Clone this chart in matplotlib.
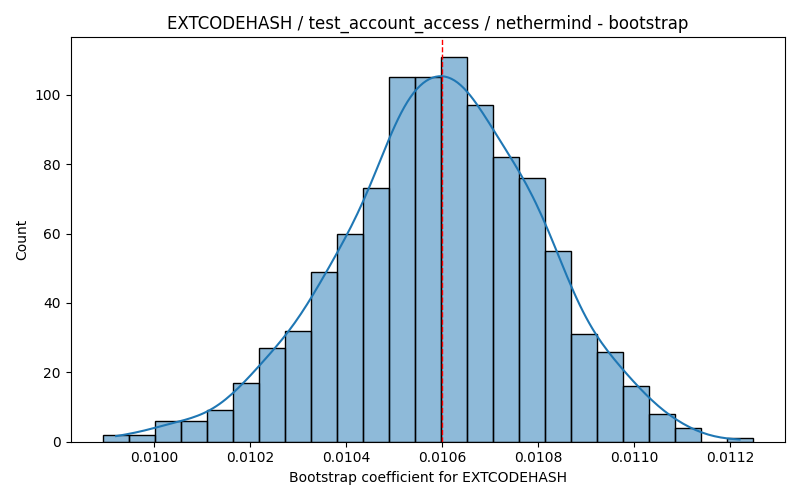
import numpy as np
import matplotlib
matplotlib.use("Agg")
import matplotlib.pyplot as plt
import seaborn as sns

# histogram counts (25 bins)
counts = [2, 2, 6, 6, 9, 17, 27, 32, 49, 60, 73, 105, 105,
          111, 97, 82, 76, 55, 31, 26, 16, 8, 4, 0, 1]
bin_lo = 0.009894
bin_hi = 0.011247
center_value = 0.01060

title = "EXTCODEHASH / test_account_access / nethermind - bootstrap"
xlabel = "Bootstrap coefficient for EXTCODEHASH"

edges = np.linspace(bin_lo, bin_hi, len(counts) + 1)
centers = (edges[:-1] + edges[1:]) / 2
samples = np.repeat(centers, counts)

fig, ax = plt.subplots(figsize=(8, 5), dpi=100)
sns.histplot(x=samples, bins=edges, kde=True, ax=ax)
ax.axvline(center_value, color="red", linestyle="--", linewidth=1)

ax.set_title(title)
ax.set_xlabel(xlabel)
ax.set_ylabel("Count")
ax.xaxis.set_major_formatter(matplotlib.ticker.FormatStrFormatter("%.4f"))

plt.tight_layout()
plt.savefig("out.png")
plt.close()
